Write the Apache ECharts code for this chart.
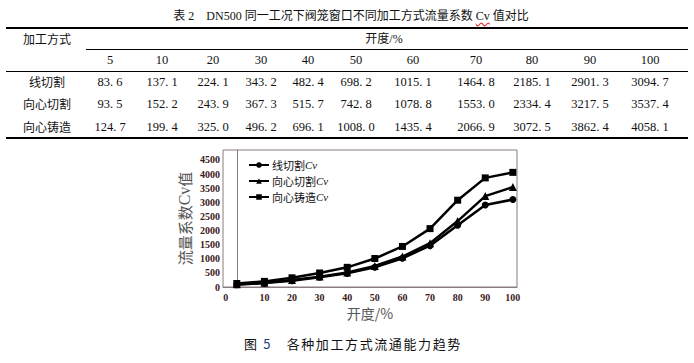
<!DOCTYPE html>
<html><head><meta charset="utf-8">
<script src="https://cdn.jsdelivr.net/npm/echarts@6/dist/echarts.min.js"></script>
<style>
html,body{margin:0;padding:0;background:#fff;}
#wrap{position:relative;width:694px;height:363px;overflow:hidden;font-family:"Liberation Serif","Noto Sans CJK SC",serif;color:#111;}
.t{position:absolute;transform:translate(-50%,-50%);white-space:nowrap;font-size:12.5px;line-height:1;}
.rule{position:absolute;background:#000;}
#chart{position:absolute;left:0;top:0;width:694px;height:363px;}
</style></head><body>
<div id="wrap"><div id="chart"></div><div id="table"></div></div>
<script>
// ---- data ----
const openings = [5, 10, 20, 30, 40, 50, 60, 70, 80, 90, 100];
const methods = ['线切割', '向心切割', '向心铸造'];
const lineCut = [83.6, 137.1, 224.1, 343.2, 482.4, 698.2, 1015.1, 1464.8, 2185.1, 2901.3, 3094.7];
const radialCut = [93.5, 152.2, 243.9, 367.3, 515.7, 742.8, 1078.8, 1553.0, 2334.4, 3217.5, 3537.4];
const radialCast = [124.7, 199.4, 325.0, 496.2, 696.1, 1008.0, 1435.4, 2066.9, 3072.5, 3862.4, 4058.1];
const xTickLabels = ['0', '10', '20', '30', '40', '50', '60', '70', '80', '90', '100'];
const yTicks = [0, 500, 1000, 1500, 2000, 2500, 3000, 3500, 4000, 4500];

// ---- table (layout) ----
const colX = [110, 162, 213, 261, 308, 356, 413, 476, 532, 590, 650];
const rowY = [82, 104, 127];
const tbl = document.getElementById('table');
function txt(html, x, y, style) {
  const d = document.createElement('div');
  d.className = 't';
  d.style.left = x + 'px'; d.style.top = y + 'px';
  if (style) d.style.cssText += style;
  d.innerHTML = html;
  tbl.appendChild(d);
}
function rule(x, y, w, h) {
  const d = document.createElement('div');
  d.className = 'rule';
  d.style.left = x + 'px'; d.style.top = y + 'px';
  d.style.width = w + 'px'; d.style.height = h + 'px';
  tbl.appendChild(d);
}
txt('表 2&emsp;DN500 同一工况下阀笼窗口不同加工方式流量系数 <span style="text-decoration:underline wavy #e03030;text-underline-offset:2px">Cv</span> 值对比', 351, 16, 'font-size:12px;');
rule(6, 27, 682, 1.5);
txt('加工方式', 47, 39, 'font-family:"Noto Sans CJK SC";font-size:12px;');
txt('开度/%', 384, 39, 'font-size:12px;');
rule(86, 49, 602, 1);
openings.forEach((o, i) => txt(String(o), colX[i], 60));
rule(6, 71, 682, 1);
const rows = [lineCut, radialCut, radialCast];
rows.forEach((arr, r) => {
  txt(methods[r], 47, rowY[r], 'font-family:"Noto Sans CJK SC";font-size:12px;');
  arr.forEach((v, i) => txt(v.toFixed(1).replace('.', '. '), colX[i], rowY[r]));
});
rule(6, 137, 682, 1.5);
txt('图 <span style="color:#1b3c7a">5</span>&emsp;各种加工方式流通能力趋势', 353, 343, 'font-family:"Noto Sans CJK SC";font-size:13px;letter-spacing:1.6px;color:#111;');

// ---- chart ----
const serif = 'Liberation Serif';
const frame = '#8a7c7c';
const xLabelPos = xTickLabels.map((l, i) => {
  const k = openings.indexOf(Number(l));
  return k >= 0 ? k : -0.4;
});
const names = methods.map(m => m + 'Cv');
const symbols = ['circle', 'triangle', 'rect'];
const sizes = [7, 8, 7];
const chart = echarts.init(document.getElementById('chart'), null, { renderer: 'svg' });
chart.setOption({
  animation: false,
  backgroundColor: 'transparent',
  grid: { left: 223, top: 150, right: 177, bottom: 76, show: true, borderColor: frame, borderWidth: 1 },
  legend: {
    orient: 'vertical', left: 243, top: 154, itemWidth: 20, itemHeight: 7, itemGap: 4,
    data: names,
    formatter: n => '{a|' + n.replace('Cv', '') + '}{b|Cv}',
    textStyle: {
      fontSize: 11, lineHeight: 12, color: '#111', padding: [0, 0, 0, -2],
      rich: {
        a: { fontFamily: 'Noto Sans CJK SC', fontSize: 11, color: '#111' },
        b: { fontFamily: serif, fontStyle: 'italic', fontSize: 11, color: '#111' }
      }
    }
  },
  xAxis: {
    type: 'value', min: -0.5, max: 10.15,
    axisLine: { show: true, lineStyle: { color: frame, width: 1 } },
    axisTick: { show: false }, splitLine: { show: false },
    axisLabel: {
      customValues: xLabelPos,
      showMinLabel: true, showMaxLabel: true, hideOverlap: false,
      formatter: v => v < 0 ? xTickLabels[0] : String(openings[Math.round(v)]),
      fontFamily: serif, fontWeight: 'bold', fontSize: 10, color: '#3a2020', margin: 5
    },
    name: '开度/%', nameLocation: 'middle', nameGap: 19,
    nameTextStyle: { fontFamily: 'Noto Sans CJK SC', fontSize: 14, color: '#555' }
  },
  yAxis: {
    type: 'value', min: 0, max: 4850,
    axisLine: { show: true, lineStyle: { color: frame, width: 1 } },
    axisTick: { show: false }, splitLine: { show: false },
    axisLabel: {
      customValues: yTicks,
      formatter: v => String(v),
      fontFamily: serif, fontWeight: 'bold', fontSize: 10, color: '#3a2020', margin: 3
    },
    name: '{a|流量系数}{b|Cv}{a|值}', nameLocation: 'middle', nameGap: 31, nameRotate: 90,
    nameTextStyle: {
      fontSize: 15, color: '#555',
      rich: {
        a: { fontFamily: 'Noto Sans CJK SC', fontSize: 15, color: '#555' },
        b: { fontFamily: serif, fontSize: 16, color: '#555' }
      }
    }
  },
  series: rows.map((arr, r) => ({
    name: names[r], type: 'line',
    data: arr.map((v, i) => [i, v]),
    symbol: symbols[r], symbolSize: sizes[r],
    lineStyle: { color: '#000', width: 2.5 },
    itemStyle: { color: '#000' },
    z: 2 + r
  }))
});
</script>
</body></html>
